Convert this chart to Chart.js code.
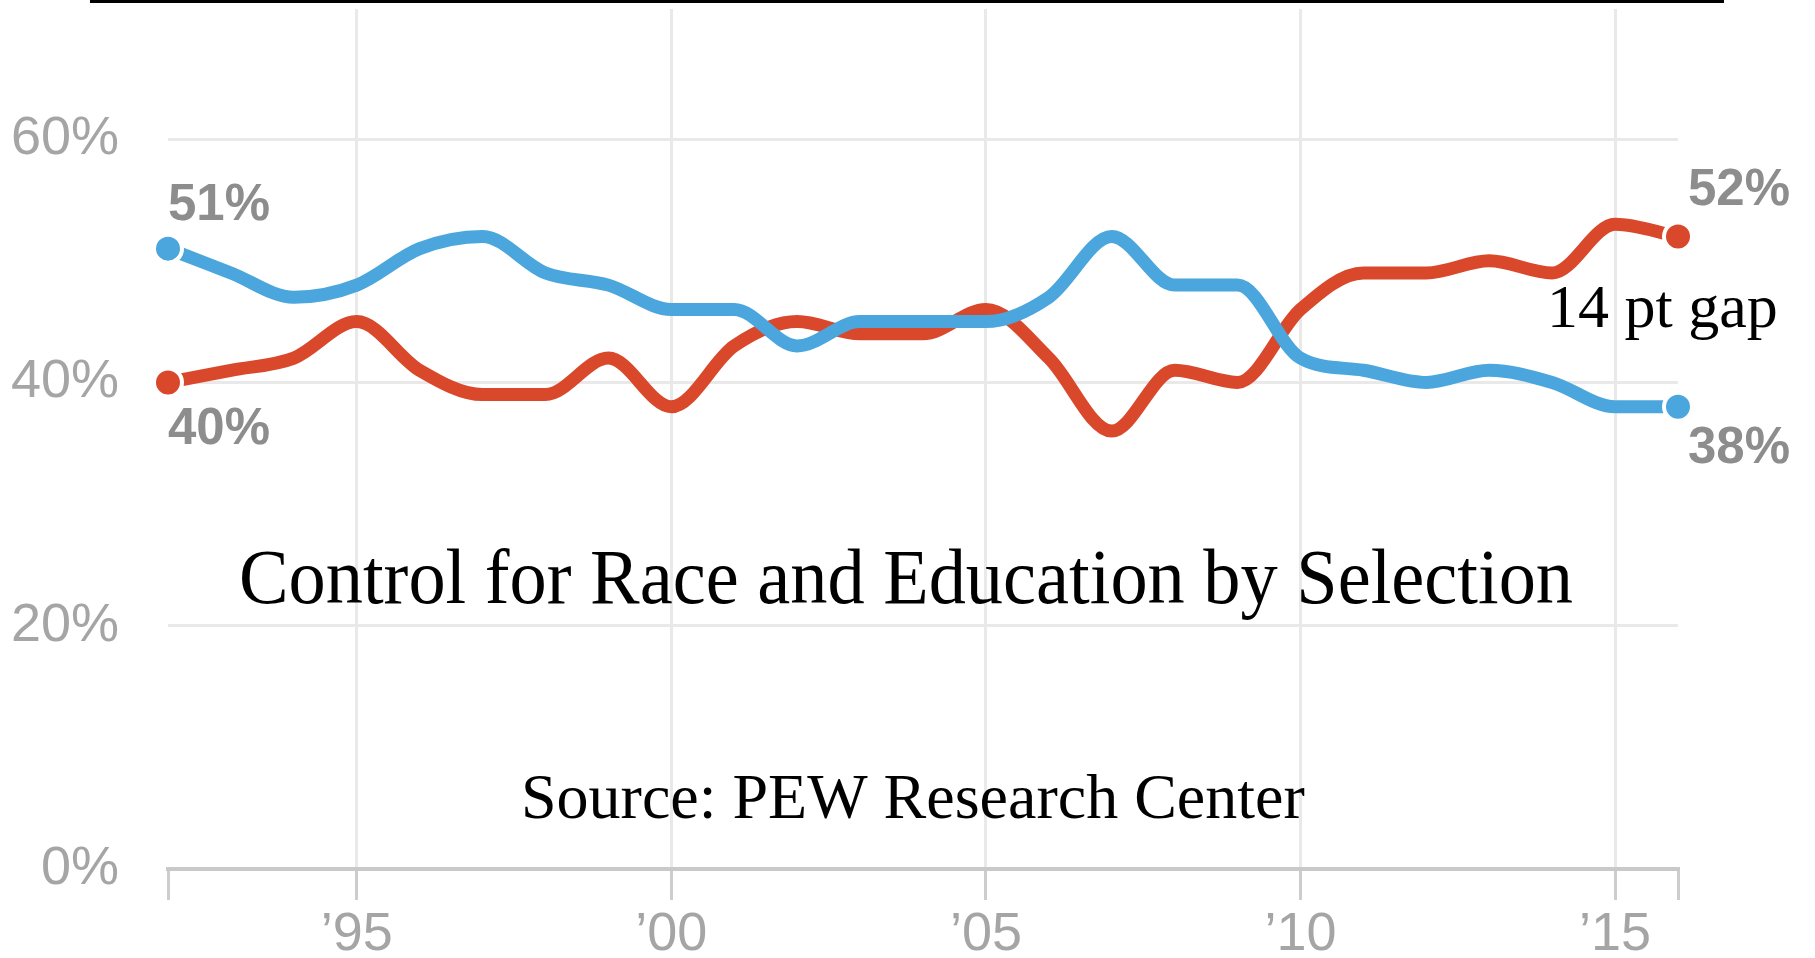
<!DOCTYPE html>
<html>
<head>
<meta charset="utf-8">
<title>Control for Race and Education by Selection</title>
<script src="https://cdn.jsdelivr.net/npm/chart.js@4.4.1/dist/chart.umd.min.js"></script>
<style>
    html, body { margin: 0; padding: 0; background: #fff; }
    #wrap { width: 1815px; height: 958px; position: relative; }
</style>
</head>
<body>
<div id="wrap"><canvas id="gapChart"></canvas></div>
<script>
// Data (percent)
const years = [1992, 1993, 1994, 1995, 1996, 1997, 1998, 1999, 2000, 2001, 2002, 2003, 2004,
               2005, 2006, 2007, 2008, 2009, 2010, 2011, 2012, 2013, 2014, 2015, 2016];
const redValues  = [40, 41, 42, 45, 41, 39, 39, 42, 38, 43, 45, 44, 44, 46, 42, 36, 41, 40, 46, 49, 49, 50, 49, 53, 52];
const blueValues = [51, 49, 47, 48, 51, 52, 49, 48, 46, 46, 43, 45, 45, 45, 47, 52, 48, 48, 42, 41, 40, 41, 40, 38, 38];
const xTicks = [1992, 1995, 2000, 2005, 2010, 2015, 2016];
const yTicks = [0, 20, 40, 60];

const titleText = "Control for Race and Education by Selection";
const sourceText = "Source: PEW Research Center";
const gapText = "14 pt gap";

const RED = "#d9482b";
const BLUE = "#4aa6dc";
const LABEL_GRAY = "#8d8d8d";
const TICK_GRAY = "#a5a5a5";

Chart.defaults.font.family = "'Liberation Sans', Arial, sans-serif";

const lastIdx = years.length - 1;

function endDot(ctx) {
    return (ctx.dataIndex === 0 || ctx.dataIndex === lastIdx) ? 14 : 0;
}

function series(values, color) {
    return {
        data: years.map((y, i) => ({ x: y, y: values[i] })),
        borderColor: color,
        backgroundColor: color,
        borderWidth: 13,
        borderCapStyle: "round",
        borderJoinStyle: "round",
        cubicInterpolationMode: "monotone",
        pointRadius: endDot,
        pointHoverRadius: endDot,
        pointBackgroundColor: color,
        pointBorderColor: "#fff",
        pointBorderWidth: 4,
        clip: false
    };
}

// texts drawn on top of the chart
const annotations = {
    id: "annotations",
    afterDraw(chart) {
        const ctx = chart.ctx;
        const xs = chart.scales.x;
        const ys = chart.scales.y;
        ctx.save();

        // black rule at the very top
        ctx.fillStyle = "#000";
        ctx.fillRect(90, 0, 1634, 3);

        // end values
        ctx.font = "bold 51px 'Liberation Sans', Arial, sans-serif";
        ctx.fillStyle = LABEL_GRAY;
        ctx.textAlign = "left";
        ctx.textBaseline = "alphabetic";
        const x0 = xs.getPixelForValue(years[0]);
        const x1 = xs.getPixelForValue(years[lastIdx]);
        ctx.fillText(blueValues[0] + "%", x0, ys.getPixelForValue(blueValues[0]) - 29);
        ctx.fillText(redValues[0] + "%", x0, ys.getPixelForValue(redValues[0]) + 62);
        ctx.fillText(redValues[lastIdx] + "%", x1 + 10, ys.getPixelForValue(redValues[lastIdx]) - 31);
        ctx.fillText(blueValues[lastIdx] + "%", x1 + 10, ys.getPixelForValue(blueValues[lastIdx]) + 56);

        // serif captions
        ctx.fillStyle = "#000";
        ctx.font = "78px 'Liberation Serif', 'Times New Roman', serif";
        const w = ctx.measureText(titleText).width;
        ctx.save();
        ctx.translate(239, 603);
        ctx.scale(1334 / w, 1);
        ctx.fillText(titleText, 0, 0);
        ctx.restore();

        ctx.font = "64px 'Liberation Serif', 'Times New Roman', serif";
        ctx.fillText(sourceText, 521, 818);

        ctx.font = "62px 'Liberation Serif', 'Times New Roman', serif";
        ctx.fillText(gapText, 1547, 327);

        ctx.restore();
    }
};

new Chart(document.getElementById("gapChart"), {
    type: "line",
    data: {
        datasets: [
            series(blueValues, BLUE),
            series(redValues, RED)
        ]
    },
    options: {
        responsive: true,
        maintainAspectRatio: false,
        animation: false,
        events: [],
        layout: {
            autoPadding: false,
            padding: { top: 9, right: 137, left: 0, bottom: 0 }
        },
        plugins: {
            legend: { display: false },
            tooltip: { enabled: false }
        },
        scales: {
            x: {
                type: "linear",
                min: 1992,
                max: 2016,
                afterBuildTicks: s => { s.ticks = xTicks.map(v => ({ value: v })); },
                afterFit: s => {
                    s.height = 89;
                    s.paddingLeft = 0;
                    s.paddingRight = 0;
                },
                grid: {
                    color: c => (c.tick && c.tick.value % 5 === 0) ? "#e9e9e9" : "rgba(0,0,0,0)",
                    lineWidth: 3,
                    tickColor: "#cdcdcd",
                    tickWidth: 3,
                    tickLength: 31
                },
                border: { display: true, color: "#c9c9c9", width: 4 },
                ticks: {
                    autoSkip: false,
                    maxRotation: 0,
                    padding: 3,
                    color: TICK_GRAY,
                    font: { size: 54 },
                    callback: v => v % 5 === 0 ? "\u2019" + String(v).slice(2) : ""
                }
            },
            y: {
                min: 0,
                max: 70.7,
                afterBuildTicks: s => { s.ticks = yTicks.map(v => ({ value: v })); },
                afterFit: s => {
                    // keep the plot area right up to the top, labels sit inside it
                    s.width = 168;
                    s.paddingTop = 0;
                    s.paddingBottom = 0;
                },
                grid: {
                    color: c => (c.tick && c.tick.value === 0) ? "rgba(0,0,0,0)" : "#e9e9e9",
                    lineWidth: 3,
                    drawTicks: false
                },
                border: { display: false },
                ticks: {
                    padding: 49,
                    color: TICK_GRAY,
                    font: { size: 54 },
                    callback: v => v + "%"
                }
            }
        }
    },
    plugins: [annotations]
});
</script>
</body>
</html>
